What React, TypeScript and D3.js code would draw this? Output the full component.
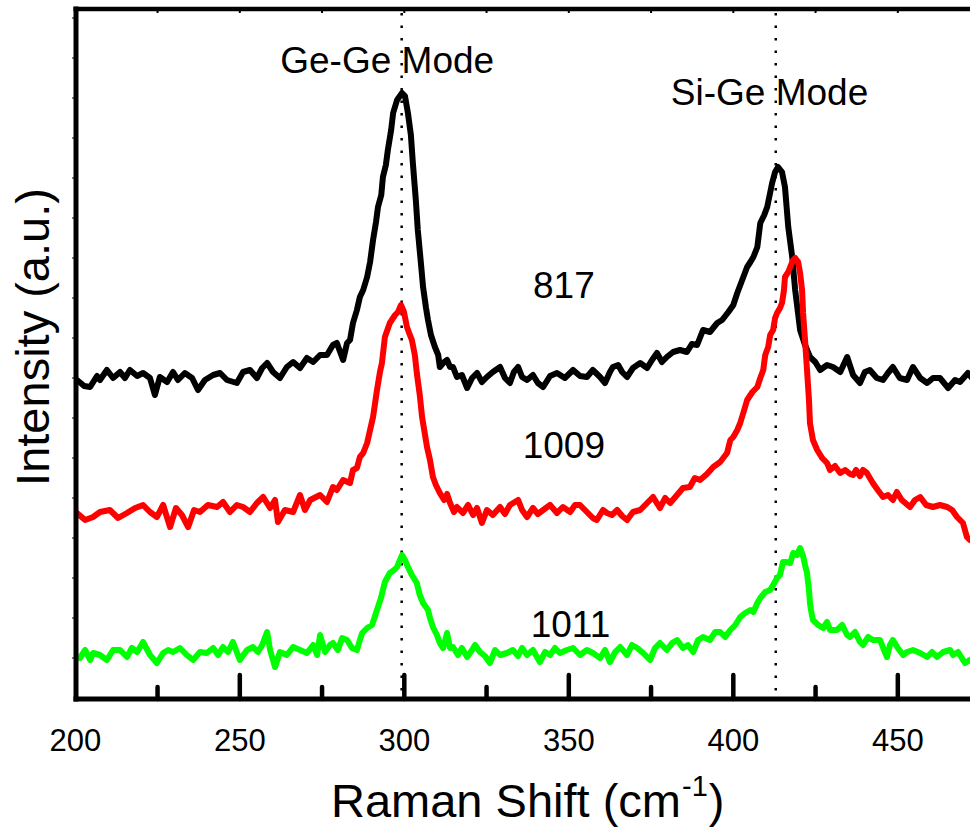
import React from "react";
import * as d3 from "d3";

// Raman shift (cm^-1) and intensity (a.u.)
const series817: [number, number][] = [
  [200.5,318],[202.7,312],[204.5,311],[206.6,322],[207.5,318],[209.6,328],[211.5,320],[213.6,326],[215.1,320],[216.6,328],
  [218.8,322],[220.6,325],[222.7,320],[224.2,303],[225.7,321],[227.9,316],[229.7,326],[231.2,318],[233.3,325],[235.5,320],
  [237.3,308],[239.4,318],[241.9,323],[244.0,325],[246.1,318],[249.1,315],[251.0,326],[253.1,328],[255.2,320],[256.8,330],
  [258.3,335],[260.1,326],[262.2,320],[264.3,331],[266.2,336],[268.3,330],[270.4,340],[272.3,336],[274.4,343],[276.5,343],
  [278.3,353],[279.5,355],[281.4,338],[282.6,355],[283.5,358],[284.4,375],[285.6,388],[286.5,401],[287.5,408],[288.7,421],
  [289.6,436],[290.5,458],[291.4,476],[292.0,491],[293.0,503],[293.5,521],[294.4,533],[295.0,548],[296.0,568],[296.6,585],
  [297.8,598],[299.3,605],[300.2,602],[301.1,585],[302.0,563],[302.6,535],[303.5,498],[304.1,468],[305.1,433],[305.7,411],
  [306.6,390],[307.2,378],[308.1,363],[309.3,351],[310.3,343],[310.8,331],[311.8,335],[313.0,338],[313.9,331],[314.8,331],
  [316.0,321],[317.5,323],[319.1,310],[320.6,320],[322.1,325],[323.6,316],[325.1,321],[326.9,326],[329.1,331],[330.6,320],
  [332.1,315],[333.3,326],[334.6,331],[335.8,321],[337.3,318],[339.1,323],[340.6,315],[342.2,311],[344.3,322],[346.4,325],
  [348.8,320],[351.3,328],[353.4,322],[355.5,321],[357.3,328],[359.5,321],[361.0,315],[362.5,326],[363.4,331],[365.0,333],
  [366.2,326],[367.7,321],[369.5,330],[371.7,335],[373.8,330],[375.3,338],[376.8,345],[378.3,336],[379.8,341],[381.7,346],
  [383.8,348],[385.9,346],[387.4,354],[389.0,353],[390.8,368],[392.9,366],[395.1,375],[396.6,378],[398.5,386],[400.0,393],
  [401.2,405],[402.7,418],[404.2,431],[405.2,436],[406.1,441],[407.3,451],[408.2,475],[409.4,483],[410.3,491],[411.8,515],
  [412.7,526],[413.6,531],[414.8,526],[415.7,511],[416.7,471],[417.9,441],[418.8,408],[420.3,368],[421.8,353],[423.3,341],
  [424.9,336],[426.4,328],[428.5,333],[430.3,331],[432.5,326],[434.6,341],[436.4,323],[438.5,315],[440.0,326],[441.5,328],
  [443.6,320],[445.5,318],[447.0,325],[448.5,331],[450.6,320],[452.8,318],[454.6,331],[456.8,320],[458.9,315],[460.7,320],
  [462.8,320],[465.3,310],[467.4,318],[468.9,316],[471.3,325],[472.5,320]
];

const series1009: [number, number][] = [
  [200.5,185],[203.0,178],[205.4,181],[207.5,186],[210.5,188],[213.0,180],[215.7,185],[218.2,190],[220.6,193],[222.7,186],
  [224.8,181],[226.7,193],[228.8,171],[230.6,190],[232.4,183],[234.3,171],[236.1,188],[237.9,186],[240.3,193],[243.1,191],
  [244.9,196],[247.0,186],[249.1,193],[251.0,191],[253.1,186],[255.2,195],[257.1,201],[259.2,190],[260.7,198],[261.6,176],
  [263.7,188],[266.2,186],[268.3,203],[269.8,188],[271.4,198],[274.4,203],[276.5,196],[278.3,211],[279.5,208],[281.4,218],
  [283.5,215],[284.4,228],[285.6,230],[286.5,241],[287.5,245],[288.7,255],[289.6,268],[290.5,281],[291.7,308],[292.6,326],
  [293.2,335],[294.1,361],[295.6,375],[297.2,383],[298.1,386],[299.0,393],[299.9,386],[300.8,371],[301.7,363],[302.3,358],
  [303.2,343],[303.8,325],[304.7,303],[305.4,281],[306.3,263],[306.9,251],[307.8,238],[308.7,221],[309.6,213],[310.8,205],
  [312.1,198],[313.0,204],[313.9,195],[315.1,186],[316.0,191],[317.8,185],[319.4,193],[320.9,183],[322.1,190],[323.6,175],
  [325.1,188],[326.9,183],[329.1,191],[330.6,184],[332.1,193],[334.6,198],[335.8,188],[337.3,181],[339.1,190],[340.6,184],
  [342.2,188],[344.3,193],[346.4,185],[348.2,191],[350.4,186],[351.9,193],[353.4,193],[355.5,186],[357.3,180],[358.5,178],
  [360.4,188],[361.6,185],[363.1,183],[364.7,188],[366.2,182],[367.7,178],[369.5,186],[371.7,188],[373.8,195],[375.6,201],
  [377.7,190],[379.3,200],[380.8,195],[382.9,203],[384.7,210],[386.8,211],[388.3,220],[389.9,218],[392.0,224],[393.9,231],
  [396.0,236],[398.1,245],[399.1,258],[400.0,261],[401.2,268],[402.1,275],[403.3,288],[404.2,298],[405.8,306],[407.3,311],
  [408.2,320],[409.1,328],[409.7,343],[410.6,351],[411.2,363],[412.1,368],[412.7,380],[413.3,385],[414.2,390],[414.8,395],
  [415.4,408],[415.7,421],[416.7,426],[417.3,431],[418.2,438],[418.8,440],[419.7,436],[420.3,425],[420.9,408],[421.2,385],
  [421.8,358],[422.4,328],[423.0,298],[423.3,275],[424.2,258],[425.5,248],[427.0,240],[428.5,235],[429.4,228],[430.9,232],
  [432.5,225],[434.0,228],[435.5,224],[436.4,223],[437.3,228],[438.5,222],[439.4,228],[440.6,225],[442.4,215],[443.9,208],
  [445.5,201],[447.0,203],[448.5,198],[449.7,206],[451.2,198],[453.7,191],[455.2,198],[456.8,201],[458.6,193],[460.7,191],
  [462.8,193],[465.0,191],[466.5,188],[468.0,181],[469.8,175],[471.0,161],[471.9,158]
];

const series1011: [number, number][] = [
  [201.4,40],[203.0,48],[204.5,38],[205.4,45],[207.5,43],[209.6,38],[211.5,48],[213.6,48],[215.7,41],[217.2,50],
  [218.8,46],[220.6,56],[222.7,43],[224.8,35],[226.7,45],[228.2,48],[229.7,46],[231.8,50],[233.9,43],[235.8,38],
  [237.9,46],[240.0,45],[241.9,50],[243.4,43],[244.9,51],[246.4,46],[247.9,56],[250.0,38],[252.2,48],[254.0,51],
  [255.5,46],[256.8,53],[258.3,66],[259.2,48],[260.7,31],[262.2,46],[264.3,43],[266.2,51],[268.3,48],[270.4,45],
  [272.3,53],[273.5,43],[274.4,63],[275.9,46],[277.4,53],[278.3,55],[279.8,48],[281.1,60],[282.6,58],[284.1,50],
  [285.6,48],[286.5,58],[287.2,65],[288.7,70],[290.2,73],[291.7,88],[292.9,100],[294.1,116],[295.6,125],[296.9,128],
  [297.8,131],[298.7,138],[299.3,143],[300.2,138],[301.1,131],[302.3,123],[303.8,115],[304.7,103],[305.7,95],[307.2,88],
  [307.8,80],[308.7,71],[309.9,63],[310.8,55],[311.8,50],[313.0,65],[313.9,50],[314.8,51],[316.3,43],[317.5,50],
  [319.1,41],[320.6,48],[321.5,53],[323.0,46],[324.5,42],[326.0,35],[327.6,48],[329.1,43],[331.2,45],[333.0,48],
  [334.6,42],[335.8,50],[337.3,43],[339.1,48],[341.2,36],[342.8,46],[344.3,43],[345.8,50],[347.3,45],[349.4,48],
  [351.3,50],[353.4,43],[355.5,48],[357.3,45],[359.5,40],[361.0,48],[362.5,36],[364.1,46],[365.6,51],[367.7,43],
  [369.2,53],[370.8,50],[372.6,45],[374.7,38],[376.2,50],[377.7,55],[379.8,48],[381.4,55],[382.9,58],[384.7,50],
  [386.2,53],[387.8,46],[389.3,58],[390.8,61],[392.9,58],[394.5,66],[396.0,66],[397.5,61],[399.1,68],[400.6,73],
  [402.1,81],[403.6,85],[405.2,88],[406.1,86],[407.3,95],[408.2,100],[409.7,106],[411.2,108],[412.1,113],[413.3,120],
  [414.2,123],[415.1,136],[416.0,136],[417.3,135],[418.2,145],[419.4,143],[420.3,150],[421.2,142],[421.8,133],[422.4,125],
  [423.0,108],[423.3,95],[423.6,88],[424.2,78],[425.8,73],[427.3,70],[428.5,76],[429.4,68],[431.5,68],[433.1,73],
  [434.6,63],[435.5,61],[437.0,66],[438.5,56],[439.4,53],[441.0,61],[442.4,58],[444.6,58],[445.8,48],[446.7,41],
  [447.6,53],[448.5,58],[450.0,50],[451.6,43],[452.8,46],[454.6,48],[456.8,45],[458.9,41],[460.4,46],[461.9,41],
  [463.8,46],[465.9,48],[466.8,43],[468.3,46],[470.4,35],[471.9,38]
];

const seriesList = [
  { name: "817", color: "#000000", data: series817 },
  { name: "1009", color: "#ff0000", data: series1009 },
  { name: "1011", color: "#00ff00", data: series1011 },
];

const sampleLabels = [
  { text: "817", x: 348.5, y: 400 },
  { text: "1009", x: 348.5, y: 240 },
  { text: "1011", x: 350.5, y: 61 },
];

const modeLines = [299.2, 412.9];
const modeLabels = [
  { text: "Ge-Ge Mode", x: 262.3, y: 625 },
  { text: "Si-Ge Mode", x: 381.0, y: 593 },
];

const majorTicks = [250, 300, 350, 400, 450];
const minorTicks = [225, 275, 325, 375, 425];
const xTickLabels = [200, 250, 300, 350, 400, 450];

const W = 970;
const H = 828;
const FONT = "Arial, 'Liberation Sans', sans-serif";

export default function App() {
  const x = d3.scaleLinear().domain([200, 472]).range([75.3, 970.2]);
  const y = d3.scaleLinear().domain([0, 690]).range([698, 8]);
  const line = d3
    .line<[number, number]>()
    .x((d) => x(d[0]))
    .y((d) => y(d[1]));

  const left = 76;
  const top = 9;
  const bottom = 699;
  const yTicks = d3.range(40, 690, 40);

  return (
    <svg
      width={W}
      height={H}
      style={{ position: "absolute", left: 0, top: 0, background: "#fff" }}
      fontFamily={FONT}
    >
      <defs>
        <clipPath id="plot">
          <rect x={left} y={top} width={W - left} height={bottom - top} />
        </clipPath>
      </defs>
      <rect x={0} y={0} width={W} height={H} fill="#fff" />

      {/* dotted mode lines */}
      {modeLines.map((m, i) => (
        <line
          key={i}
          x1={x(m)}
          x2={x(m)}
          y1={top + 4}
          y2={bottom}
          stroke="#000"
          strokeWidth={2.5}
          strokeDasharray="2.5,10"
        />
      ))}

      {/* spectra */}
      <g clipPath="url(#plot)">
        {seriesList.map((s) => (
          <path
            key={s.name}
            d={line(s.data) || ""}
            fill="none"
            stroke={s.color}
            strokeWidth={6}
            strokeLinejoin="round"
            strokeLinecap="round"
          />
        ))}
      </g>

      {/* axes frame */}
      <line x1={left} x2={left} y1={top - 2.5} y2={bottom + 2.5} stroke="#000" strokeWidth={5} />
      <line x1={left - 2.5} x2={W} y1={top} y2={top} stroke="#000" strokeWidth={4.5} />
      <line x1={left - 2.5} x2={W} y1={bottom} y2={bottom} stroke="#000" strokeWidth={5} />

      {/* left small ticks */}
      {yTicks.map((t) => (
        <line key={t} x1={left - 4} x2={left} y1={y(t)} y2={y(t)} stroke="#000" strokeWidth={1} />
      ))}
      {/* top small ticks */}
      {[...majorTicks, ...minorTicks].map((t) => (
        <line key={"t" + t} x1={x(t)} x2={x(t)} y1={top} y2={top + 4} stroke="#000" strokeWidth={2} />
      ))}

      {/* bottom ticks */}
      {majorTicks.map((t) => (
        <line key={"M" + t} x1={x(t)} x2={x(t)} y1={bottom} y2={bottom - 24} stroke="#000" strokeWidth={4.5} strokeLinecap="round" />
      ))}
      {minorTicks.map((t) => (
        <line key={"m" + t} x1={x(t)} x2={x(t)} y1={bottom} y2={bottom - 12} stroke="#000" strokeWidth={4.5} strokeLinecap="round" />
      ))}
      {xTickLabels.map((t) => (
        <text key={"l" + t} x={x(t)} y={751} fontSize={31} textAnchor="middle" fill="#000">
          {t}
        </text>
      ))}

      {/* axis titles */}
      <text x={331} y={817} fontSize={47} fill="#000">
        Raman Shift (cm
        <tspan fontSize={29} dx={1} dy={-21}>-1</tspan>
        <tspan dx={1} dy={21}>)</tspan>
      </text>
      <text
        transform={`translate(49, 337) rotate(-90)`}
        fontSize={47}
        textAnchor="middle"
        fill="#000"
      >
        Intensity (a.u.)
      </text>

      {/* annotations */}
      {modeLabels.map((m) => (
        <text key={m.text} x={x(m.x)} y={y(m.y)} fontSize={37} fill="#000">
          {m.text}
        </text>
      ))}
      {sampleLabels.map((s) => (
        <text key={s.text} x={x(s.x)} y={y(s.y)} fontSize={37} textAnchor="middle" fill="#000">
          {s.text}
        </text>
      ))}
    </svg>
  );
}
